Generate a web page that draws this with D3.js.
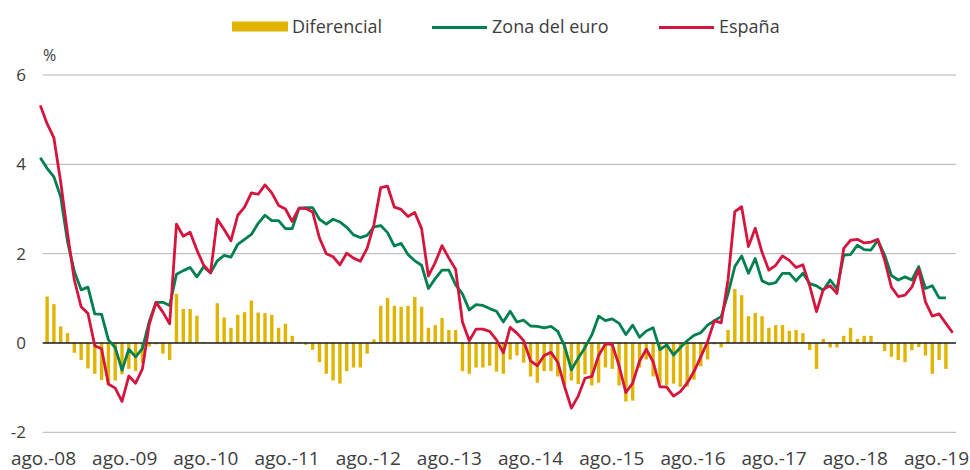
<!DOCTYPE html>
<html>
  <head>
    <meta charset="utf-8">
    <style>
      body { margin: 0; background: #fff; }
      svg { display: block; }
      text { font-family: "Open Sans", sans-serif; fill: #3d3d3d; }
    </style>
  </head>
  <body>
    <script src="https://d3js.org/d3.v7.min.js"></script>
    <script type="text/javascript">
      const width = 970;
      const height = 470;

      // monthly values, jul.-08 onwards
      const espana = [
        5.32, 4.91, 4.59, 3.60, 2.45, 1.41, 0.81, 0.66, -0.06, -0.13, -0.92, -1.01,
        -1.31, -0.74, -0.90, -0.58, 0.42, 0.91, 0.69, 0.43, 2.66, 2.39, 2.48, 2.08,
        1.74, 1.57, 2.77, 2.54, 2.29, 2.86, 3.04, 3.36, 3.33, 3.54, 3.36, 3.08,
        3.00, 2.72, 3.02, 3.01, 2.93, 2.35, 2.00, 1.93, 1.75, 2.01, 1.90, 1.83,
        2.12, 2.65, 3.48, 3.51, 3.04, 2.99, 2.83, 2.92, 2.56, 1.50, 1.80, 2.18,
        1.90, 1.65, 0.47, 0.05, 0.31, 0.31, 0.26, 0.07, -0.22, 0.35, 0.22, 0.05,
        -0.40, -0.51, -0.28, -0.21, -0.43, -0.98, -1.46, -1.19, -0.79, -0.75, -0.28, -0.02,
        -0.03, -0.51, -1.11, -0.90, -0.41, -0.14, -0.42, -0.98, -0.99, -1.19, -1.09, -0.90,
        -0.64, -0.31, 0.03, 0.50, 0.45, 1.41, 2.94, 3.05, 2.16, 2.57, 2.03, 1.63,
        1.74, 1.95, 1.85, 1.69, 1.75, 1.28, 0.70, 1.20, 1.28, 1.11, 2.12, 2.30,
        2.32, 2.24, 2.26, 2.32, 1.86, 1.25, 1.04, 1.07, 1.25, 1.65, 0.92, 0.60,
        0.65, 0.44, 0.23
      ];

      const zonaEuro = [
        4.15, 3.91, 3.72, 3.27, 2.27, 1.60, 1.19, 1.25, 0.65, 0.64, 0.07, -0.10,
        -0.61, -0.14, -0.31, -0.12, 0.48, 0.91, 0.91, 0.84, 1.54, 1.62, 1.69, 1.48,
        1.71, 1.57, 1.84, 1.96, 1.92, 2.21, 2.32, 2.43, 2.68, 2.86, 2.74, 2.74,
        2.56, 2.56, 3.02, 3.03, 3.03, 2.77, 2.66, 2.77, 2.71, 2.59, 2.42, 2.36,
        2.41, 2.60, 2.63, 2.47, 2.17, 2.23, 1.98, 1.84, 1.74, 1.22, 1.44, 1.63,
        1.63, 1.30, 1.10, 0.74, 0.86, 0.84, 0.77, 0.71, 0.47, 0.71, 0.47, 0.51,
        0.38, 0.37, 0.34, 0.37, 0.26, -0.07, -0.60, -0.34, -0.10, 0.18, 0.60, 0.50,
        0.54, 0.44, 0.19, 0.40, 0.13, 0.27, 0.34, -0.15, -0.04, -0.27, -0.10, 0.05,
        0.17, 0.23, 0.40, 0.50, 0.59, 1.10, 1.71, 1.95, 1.56, 1.89, 1.39, 1.32,
        1.35, 1.56, 1.56, 1.39, 1.56, 1.33, 1.28, 1.18, 1.41, 1.21, 1.97, 1.98,
        2.19, 2.09, 2.08, 2.30, 1.97, 1.51, 1.41, 1.48, 1.41, 1.71, 1.22, 1.28,
        1.01, 1.01
      ];

      const diferencial = [
        null, 1.04, 0.87, 0.37, 0.22, -0.22, -0.38, -0.57, -0.69, -0.83, -0.95, -0.84,
        -0.70, -0.58, -0.63, -0.45, -0.08, -0.03, -0.24, -0.38, 1.10, 0.76, 0.76, 0.61,
        0.02, 0.01, 0.89, 0.57, 0.34, 0.63, 0.69, 0.95, 0.68, 0.67, 0.63, 0.34,
        0.43, 0.16, 0.02, -0.04, -0.15, -0.43, -0.69, -0.84, -0.91, -0.63, -0.55, -0.55,
        -0.24, 0.08, 0.83, 1.01, 0.83, 0.81, 0.83, 1.03, 0.81, 0.34, 0.40, 0.56,
        0.29, 0.29, -0.63, -0.69, -0.55, -0.55, -0.51, -0.64, -0.69, -0.37, -0.28, -0.44,
        -0.75, -0.89, -0.63, -0.63, -0.75, -0.95, -0.84, -0.92, -0.70, -0.95, -0.89, -0.55,
        -0.58, -0.95, -1.31, -1.29, -0.55, -0.37, -0.75, -0.91, -0.95, -0.91, -0.98, -0.98,
        -0.82, -0.52, -0.37, -0.03, -0.10, 0.29, 1.21, 1.07, 0.60, 0.67, 0.60, 0.34,
        0.40, 0.40, 0.27, 0.29, 0.22, -0.16, -0.58, 0.09, -0.10, -0.10, 0.16, 0.34,
        0.09, 0.16, 0.16, 0.02, -0.18, -0.31, -0.38, -0.43, -0.16, -0.09, -0.28, -0.69,
        -0.38, -0.58
      ];

      const xLabels = ['ago.-08', 'ago.-09', 'ago.-10', 'ago.-11', 'ago.-12', 'ago.-13',
        'ago.-14', 'ago.-15', 'ago.-16', 'ago.-17', 'ago.-18', 'ago.-19'];
      const yTicks = [-2, 0, 2, 4, 6];

      const legendItems = [
        { name: 'Diferencial', type: 'bar', color: '#e0b400', x: 232 },
        { name: 'Zona del euro', type: 'line', color: '#00804f', x: 432 },
        { name: 'España', type: 'line', color: '#d4163f', x: 659 },
      ];

      const xScale = d3.scaleLinear()
        .domain([0, espana.length - 1])
        .range([40.3, 952.7]);

      const labelScale = d3.scalePoint()
        .domain(xLabels)
        .range([43.5, 936.5]);

      const yScale = d3.scaleLinear()
        .domain([-2, 6])
        .range([432.3, 75]);

      const svg = d3.select('body')
        .append('svg')
        .attr('width', width)
        .attr('height', height);

      // grid
      svg.append('g')
        .selectAll('line')
        .data(yTicks.filter((d) => d !== 0))
        .enter()
        .append('line')
        .attr('x1', 42.7)
        .attr('x2', 956)
        .attr('y1', (d) => yScale(d))
        .attr('y2', (d) => yScale(d))
        .attr('stroke', '#b3b3b3')
        .attr('stroke-width', 1);

      svg.append('g')
        .selectAll('text')
        .data(yTicks)
        .enter()
        .append('text')
        .attr('x', 26)
        .attr('y', (d) => yScale(d) + 6)
        .attr('text-anchor', 'end')
        .style('font-size', '17px')
        .text((d) => d);

      svg.append('text')
        .attr('x', 43)
        .attr('y', 61)
        .style('font-size', '16px')
        .text('%');

      // bars
      const barWidth = 3.4;
      svg.append('g')
        .selectAll('rect')
        .data(diferencial.map((v, i) => ({ v, i })).filter((d) => d.v !== null))
        .enter()
        .append('rect')
        .attr('x', (d) => xScale(d.i) - barWidth / 2)
        .attr('width', barWidth)
        .attr('y', (d) => yScale(Math.max(0, d.v)))
        .attr('height', (d) => Math.abs(yScale(d.v) - yScale(0)))
        .attr('fill', '#e0b400');

      // zero line
      svg.append('line')
        .attr('x1', 42.7)
        .attr('x2', 956)
        .attr('y1', yScale(0))
        .attr('y2', yScale(0))
        .attr('stroke', '#1a1a1a')
        .attr('stroke-width', 1.3);

      const line = d3.line()
        .x((d, i) => xScale(i))
        .y((d) => yScale(d));

      svg.append('path')
        .datum(zonaEuro)
        .attr('d', line)
        .attr('fill', 'none')
        .attr('stroke', '#00804f')
        .attr('stroke-width', 2.8)
        .attr('stroke-linejoin', 'round');

      svg.append('path')
        .datum(espana)
        .attr('d', line)
        .attr('fill', 'none')
        .attr('stroke', '#d4163f')
        .attr('stroke-width', 2.8)
        .attr('stroke-linejoin', 'round');

      // x labels
      svg.append('g')
        .selectAll('text')
        .data(xLabels)
        .enter()
        .append('text')
        .attr('x', (d) => labelScale(d))
        .attr('y', 465)
        .attr('text-anchor', 'middle')
        .style('font-size', '19px')
        .text((d) => d);

      // legend
      const legend = svg.append('g')
        .selectAll('g')
        .data(legendItems)
        .enter()
        .append('g')
        .attr('transform', (d) => `translate(${d.x},0)`);

      legend.filter((d) => d.type === 'bar')
        .append('rect')
        .attr('y', 21.5)
        .attr('width', 56)
        .attr('height', 10)
        .attr('fill', (d) => d.color);

      legend.filter((d) => d.type === 'line')
        .append('line')
        .attr('x1', 0)
        .attr('x2', 55)
        .attr('y1', 27.5)
        .attr('y2', 27.5)
        .attr('stroke', (d) => d.color)
        .attr('stroke-width', 3);

      legend.append('text')
        .attr('x', 60)
        .attr('y', 33)
        .style('font-size', '18px')
        .text((d) => d.name);
    </script>
  </body>
</html>
